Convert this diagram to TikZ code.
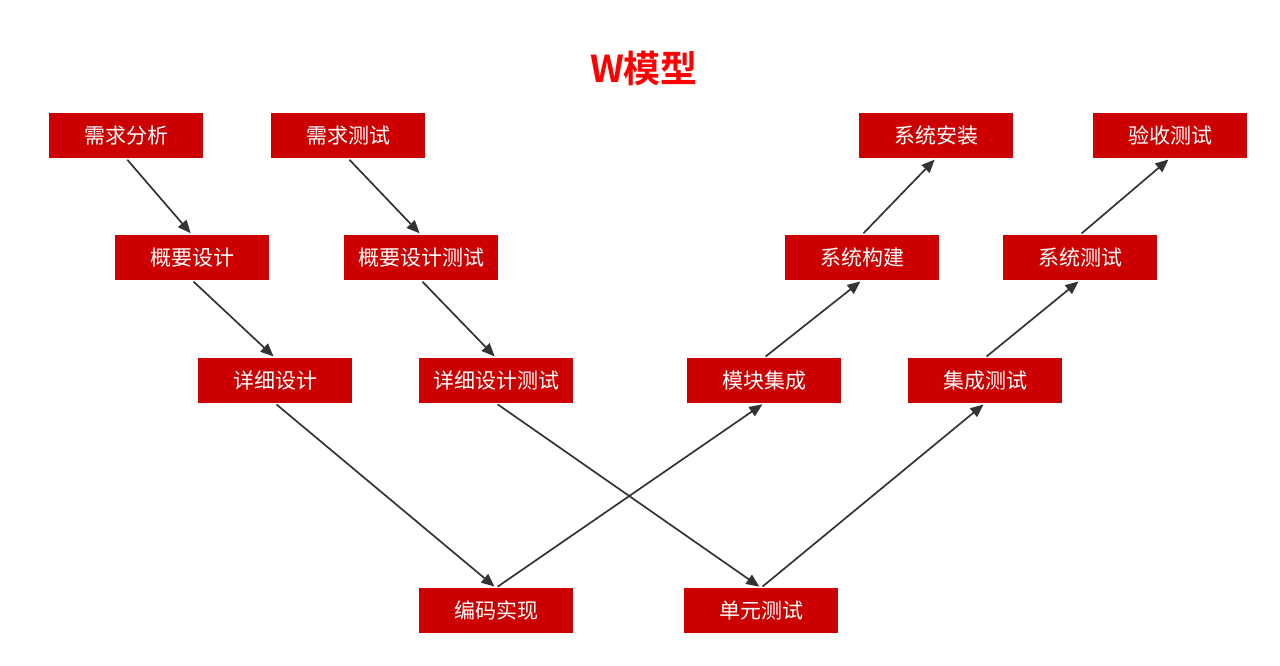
\documentclass[tikz,border=0pt]{standalone}
\usepackage{fontspec}
\setmainfont{Noto Sans CJK SC}
\newfontfamily\titlefont{Noto Sans CJK SC Bold}
\usepackage{tikz}
\usetikzlibrary{arrows.meta, positioning}
\definecolor{wred}{HTML}{CC0000}
\definecolor{wtitle}{HTML}{FF0000}
\definecolor{wline}{HTML}{333333}

\begin{document}
\begin{tikzpicture}[
  x=1pt, y=-1pt,
  stage/.style={draw=none, fill=wred, text=white, minimum width=154pt, minimum height=45pt,
    inner sep=0pt, font=\fontsize{21}{25}\selectfont},
  flow/.style={draw=wline, line width=1.7pt, -{Triangle[length=13pt, width=11pt]},
    shorten >=2pt, shorten <=2pt}
]
\useasboundingbox (0,0) rectangle (1280,666);
\node[text=wtitle, font=\titlefont\fontsize{37}{44}\selectfont] (title) at (644,68) {W模型};

% left branch (development)
\node[stage] (req) at (126,135.5) {需求分析};
\node[stage] (hld) at (192,257.5) {概要设计};
\node[stage] (lld) at (275,380.5) {详细设计};
\node[stage] (code) at (496,610.5) {编码实现};
\node[stage] (integ) at (764,380.5) {模块集成};
\node[stage] (build) at (862,257.5) {系统构建};
\node[stage] (install) at (936,135.5) {系统安装};

% second branch (testing)
\node[stage] (reqtest) at (348,135.5) {需求测试};
\node[stage] (hldtest) at (421,257.5) {概要设计测试};
\node[stage] (lldtest) at (496,380.5) {详细设计测试};
\node[stage] (unittest) at (761,610.5) {单元测试};
\node[stage] (integtest) at (985,380.5) {集成测试};
\node[stage] (systest) at (1080,257.5) {系统测试};
\node[stage] (accept) at (1170,135.5) {验收测试};

\draw[flow] (req.south) -- (hld.north);
\draw[flow] (hld.south) -- (lld.north);
\draw[flow] (lld.south) -- (code.north);
\draw[flow] (code.north) -- (integ.south);
\draw[flow] (integ.north) -- (build.south);
\draw[flow] (build.north) -- (install.south);

\draw[flow] (reqtest.south) -- (hldtest.north);
\draw[flow] (hldtest.south) -- (lldtest.north);
\draw[flow] (lldtest.south) -- (unittest.north);
\draw[flow] (unittest.north) -- (integtest.south);
\draw[flow] (integtest.north) -- (systest.south);
\draw[flow] (systest.north) -- (accept.south);
\end{tikzpicture}
\end{document}
